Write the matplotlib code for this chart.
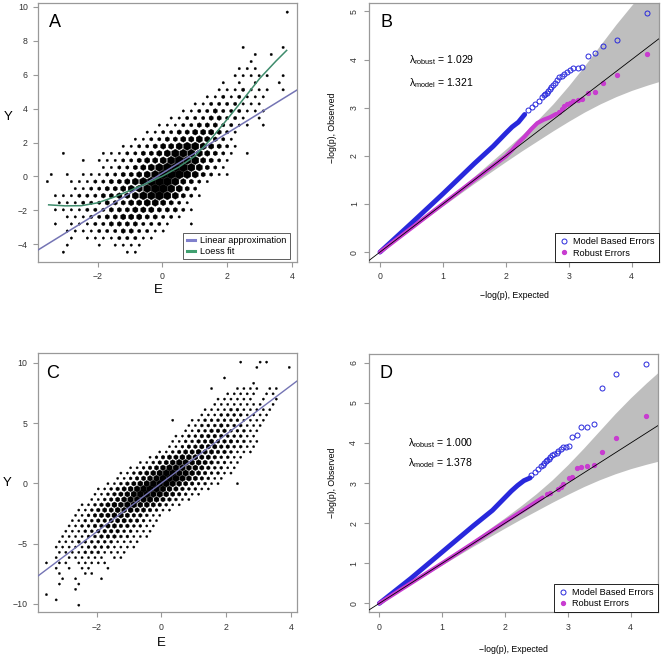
import matplotlib
matplotlib.use('Agg')
import matplotlib.pyplot as plt
from matplotlib.lines import Line2D

plt.rcParams['font.family'] = ['Liberation Sans', 'DejaVu Sans']
plt.rcParams['mathtext.fontset'] = 'custom'
plt.rcParams['mathtext.rm'] = 'Liberation Sans'

# hexbin cells, one string per hex row (bottom row first)
# digit = dot size class 1 (few points) .. 7 (many points), blank = empty cell
hex_a_rows = [
    "  1       11",
    "  1   1 1111",
    "   1 111122211",
    "  1111222332211",
    " 1 1112233332221  1",
    "  111223344433221",
    " 111122233344433321",
    " 11122233344554321",
    " 1112223344566765321",
    "   1122334556776532",
    "1  111223345677764321",
    "1 1 1112233456777653211",
    "       1122345677765321",
    "    1 11122344567664321",
    "  1    11122334566654321 1",
    "         112234456654321",
    "           1122334454321",
    "            112233444321",
    "              111223332211 1",
    "               1122233221 1",
    "                 11223222111",
    "                  112222111",
    "                    11212111",
    "                     1112111 1",
    "                      1 1 1  1",
    "                       11111 1",
    "                        111",
    "                         1",
    "                          1 1",
    "                        1    1",
    "",
    "",
    "",
    "",
    "                              1",
]

hex_c_rows = [
    "     1",
    " 1",
    "1",
    "    1",
    "  1  1",
    "  1 1   1",
    "  1   11",
    " 1 1 11  1",
    "1 11 11111",
    " 1 111111 11",
    "  11112221111",
    " 1111122221111",
    "  1112222221111",
    "  11112233322111",
    " " * 3 + "11122333322111",
    " " * 3 + "11223344332211",
    " " * 4 + "11223344433211",
    " " * 4 + "11234455433211",
    " " * 5 + "112344555443211",
    " " * 5 + "1123455665543211",
    " " * 7 + "1123456666543211",
    " " * 7 + "11234567766543211",
    " " * 8 + "112345677765432211",
    " " * 9 + "112345677765432211  1",
    " " * 11 + "11234567776543211",
    " " * 11 + "112345677665432211",
    " " * 13 + "11234566655432211",
    " " * 14 + "1123456655432211",
    " " * 16 + "123445554432211",
    " " * 17 + "112344544332111",
    " " * 19 + "11233444332211",
    " " * 19 + "11223343332211",
    " " * 20 + "1122333322211",
    " " * 21 + "112233322211",
    " " * 22 + "112223222111",
    " " * 19 + "1  112222221111",
    " " * 24 + "11122221111",
    " " * 24 + "11112211111",
    " " * 26 + "11111111 1",
    " " * 26 + "111111 1 1",
    " " * 28 + "11111 11",
    " " * 25 + "1   1111 11",
    " " * 32 + "1",
    " " * 27 + "1",
    "",
    " " * 32 + "1    1",
    " " * 30 + "1  11",
]

# fitted curves in panels A and C
a_lin_intercept, a_lin_slope = 0.2, 1.18
a_loess_x = [-3.51, -3.0, -2.5, -2.0, -1.5, -1.0, -0.5, 0.0, 0.5, 1.0, 1.5, 2.0, 2.5, 3.0, 3.5, 3.83]
a_loess_y = [-1.67, -1.73, -1.72, -1.55, -1.22, -0.82, -0.42, 0.02, 0.55, 1.2, 2.22, 3.38, 4.57, 5.78, 6.8, 7.43]
c_lin_intercept, c_lin_slope = 0.02, 2.02

# QQ plot B: dense part of each series and the separate upper tail points
b_model_x = [0, 0.5, 1.0, 1.5, 1.8, 2.0, 2.1, 2.2, 2.3]
b_model_y = [0, 0.6, 1.21, 1.84, 2.2, 2.47, 2.6, 2.7, 2.86]
b_model_tail_x = [2.35, 2.41, 2.47, 2.52, 2.57, 2.60, 2.62, 2.65, 2.67, 2.70, 2.72, 2.75, 2.78,
                  2.82, 2.85, 2.89, 2.93, 2.97, 3.02, 3.07, 3.14, 3.21, 3.30, 3.41, 3.55, 3.77, 4.25]
b_model_tail_y = [2.95, 3.02, 3.08, 3.15, 3.22, 3.26, 3.28, 3.31, 3.35, 3.38, 3.43, 3.47, 3.52,
                  3.57, 3.63, 3.66, 3.71, 3.74, 3.78, 3.82, 3.83, 3.84, 4.07, 4.13, 4.29, 4.40, 4.97]
b_robust_x = [0, 0.5, 1.0, 1.5, 2.0, 2.1, 2.2, 2.3, 2.4, 2.5, 2.6, 2.7, 2.8]
b_robust_y = [0, 0.5, 1.0, 1.5, 1.99, 2.12, 2.27, 2.4, 2.55, 2.68, 2.75, 2.8, 2.87]
b_robust_tail_x = [2.85, 2.89, 2.93, 2.97, 3.02, 3.07, 3.14, 3.21, 3.30, 3.41, 3.55, 3.77, 4.25]
b_robust_tail_y = [2.92, 2.98, 3.03, 3.07, 3.1, 3.15, 3.17, 3.18, 3.31, 3.33, 3.52, 3.67, 4.12]

# QQ plot D
d_model_x = [0, 0.5, 1.0, 1.5, 1.8, 2.0, 2.1, 2.2, 2.3, 2.4]
d_model_y = [0, 0.62, 1.28, 1.94, 2.32, 2.64, 2.8, 2.94, 3.06, 3.13]
d_model_tail_x = [2.41, 2.47, 2.52, 2.57, 2.60, 2.62, 2.65, 2.67, 2.70, 2.72, 2.75, 2.78, 2.82,
                  2.85, 2.89, 2.93, 2.97, 3.02, 3.07, 3.14, 3.21, 3.30, 3.41, 3.55, 3.77, 4.25]
d_model_tail_y = [3.2, 3.27, 3.36, 3.42, 3.46, 3.5, 3.54, 3.57, 3.6, 3.64, 3.69, 3.73, 3.76,
                  3.80, 3.86, 3.89, 3.91, 3.93, 4.16, 4.19, 4.39, 4.41, 4.48, 5.36, 5.73, 5.98]
d_robust_x = [0, 0.5, 1.0, 1.5, 2.0, 2.3, 2.6]
d_robust_y = [0, 0.5, 1.0, 1.51, 2.03, 2.33, 2.64]
d_robust_tail_x = [2.67, 2.72, 2.85, 2.89, 2.93, 3.02, 3.07, 3.14, 3.21, 3.30, 3.41, 3.55, 3.77, 4.25]
d_robust_tail_y = [2.72, 2.74, 2.86, 2.9, 2.97, 3.12, 3.15, 3.38, 3.41, 3.42, 3.44, 3.77, 4.12, 4.67]

# 95% band around the diagonal
band_x = [0, 0.5, 1, 1.5, 2, 2.25, 2.5, 2.75, 3, 3.25, 3.5, 3.75, 4, 4.25, 4.45]
band_lo = [0, 0.48, 0.96, 1.43, 1.88, 2.1, 2.31, 2.52, 2.72, 2.91, 3.08, 3.23, 3.36, 3.47, 3.55]
band_hi = [0, 0.52, 1.04, 1.58, 2.14, 2.43, 2.74, 3.08, 3.46, 3.87, 4.3, 4.73, 5.13, 5.5, 5.78]

lambda_b = ['1.029', '1.321']
lambda_d = ['1.000', '1.378']

LIN_COL = '#7474b4'
LOESS_COL = '#3e8c6c'
BLUE = '#2828dc'
MAGENTA = '#c83cd0'
FRAME = '#999999'


def draw_hex(ax, rows, y0, dy, x0_even, x0_odd, dx, widths_px):
    xs, ys, ss = [], [], []
    for k, row in enumerate(rows):
        x0 = x0_even if k % 2 == 0 else x0_odd
        for j, ch in enumerate(row):
            if ch == ' ':
                continue
            xs.append(x0 + j * dx)
            ys.append(y0 + k * dy)
            ms = widths_px[int(ch) - 1] / 0.866 * 0.72
            ss.append(ms ** 2)
    ax.scatter(xs, ys, s=ss, marker='h', c='black', edgecolors='black',
               linewidths=0.25, zorder=2)


def style_axes(ax):
    for sp in ax.spines.values():
        sp.set_color(FRAME)
        sp.set_linewidth(0.9)
    ax.tick_params(direction='out', length=3.5, width=0.8, color=FRAME,
                   labelsize=6.3, labelcolor='#333333', pad=4)


def qq_panel(ax, mx, my, mtx, mty, rx, ry, rtx, rty, lams, ylim, yticks):
    ax.fill_between(band_x, band_lo, band_hi, color='#bebebe', lw=0, zorder=1)
    ax.plot(mx, my, color=BLUE, lw=3.5, solid_capstyle='round', zorder=2)
    ax.plot(mtx, mty, ls='none', marker='o', mfc='none', mec=BLUE, ms=3.6, mew=0.7, zorder=2)
    ax.plot(rx, ry, color=MAGENTA, lw=3.0, solid_capstyle='round', zorder=3)
    ax.plot(rtx, rty, ls='none', marker='o', mfc=MAGENTA, mec=MAGENTA, ms=2.8, zorder=3)
    ax.axline((0, 0), slope=1, color='black', lw=0.6, zorder=4)
    ax.set_xlim(-0.17, 4.43)
    ax.set_ylim(*ylim)
    ax.set_xticks([0, 1, 2, 3, 4])
    ax.set_yticks(yticks)
    style_axes(ax)
    for lab in ax.get_yticklabels():
        lab.set_rotation(90)
        lab.set_va('center')
    ax.set_xlabel('\u2212log(p), Expected', fontsize=6.3)
    ax.set_ylabel('\u2212log(p), Observed', fontsize=6.3)
    handles = [Line2D([], [], ls='none', marker='o', mfc='none', mec=BLUE, ms=3.6, mew=0.7),
               Line2D([], [], ls='none', marker='o', mfc=MAGENTA, mec=MAGENTA, ms=2.8)]
    leg = ax.legend(handles, ['Model Based Errors', 'Robust Errors'], loc='lower right',
                    bbox_to_anchor=(1, 0), borderaxespad=0, fontsize=6.6, fancybox=False,
                    edgecolor='black', framealpha=1, handlelength=1.0, handletextpad=0.5,
                    labelspacing=0.25, borderpad=0.45)
    leg.get_frame().set_linewidth(0.6)
    ax.text(0.46, 3.98 if ylim[1] < 6 else 4.0, '\u03bb$_\\mathrm{robust}$ = ' + lams[0],
            fontsize=7.5, va='center', ha='left')
    ax.text(0.46, 3.51 if ylim[1] < 6 else 3.49, '\u03bb$_\\mathrm{model}$ = ' + lams[1],
            fontsize=7.5, va='center', ha='left')


fig = plt.figure(figsize=(6.62, 6.56), dpi=100)
W, H = 662.0, 656.0
ax_a = fig.add_axes([38.3 / W, 1 - 261.7 / H, (296.7 - 38.3) / W, (261.7 - 2.7) / H])
ax_b = fig.add_axes([369.3 / W, 1 - 261.7 / H, (658.7 - 369.3) / W, (261.7 - 3.3) / H])
ax_c = fig.add_axes([37.7 / W, 1 - 612.3 / H, (296.7 - 37.7) / W, (612.3 - 353.3) / H])
ax_d = fig.add_axes([368.7 / W, 1 - 612.3 / H, (657.7 - 368.7) / W, (612.3 - 354.0) / H])

# panel A
draw_hex(ax_a, hex_a_rows, -4.46, 0.416, -3.55, -3.43, 0.2466,
         [2.3, 3.2, 4.2, 5.2, 6.2, 7.2, 8.0])
ax_a.axline((0, a_lin_intercept), slope=a_lin_slope, color=LIN_COL, lw=1.1, zorder=3)
ax_a.plot(a_loess_x, a_loess_y, color=LOESS_COL, lw=1.1, zorder=3)
ax_a.set_xlim(-3.83, 4.14)
ax_a.set_ylim(-5.02, 10.24)
ax_a.set_xticks([-2, 0, 2, 4])
ax_a.set_yticks([-4, -2, 0, 2, 4, 6, 8, 10])
style_axes(ax_a)
ax_a.set_xlabel('E', fontsize=9.5)
ax_a.set_ylabel('Y', fontsize=9.5, rotation=0, ha='right', va='center')
ax_a.xaxis.set_label_coords(0.463, -0.086)
ax_a.yaxis.set_label_coords(-0.1, 0.559)
lh = [Line2D([], [], color='#8080cc', lw=2.2), Line2D([], [], color='#40a070', lw=2.2)]
leg = ax_a.legend(lh, ['Linear approximation', 'Loess fit'], loc='lower right',
                  bbox_to_anchor=(0.974, 0.0104), borderaxespad=0, fontsize=6.6,
                  fancybox=False, edgecolor='#444444', framealpha=1, handlelength=0.9,
                  handletextpad=0.6, labelspacing=0.15, borderpad=0.35)
leg.get_frame().set_linewidth(0.6)
ax_a.text(0.065, 0.923, 'A', transform=ax_a.transAxes, fontsize=13, ha='center', va='center')

# panel C
draw_hex(ax_c, hex_c_rows, -10.1, 0.438, -3.55, -3.45, 0.2,
         [2.1, 2.8, 3.5, 4.2, 4.9, 5.6, 6.2])
ax_c.axline((0, c_lin_intercept), slope=c_lin_slope, color=LIN_COL, lw=1.0, zorder=3)
ax_c.set_xlim(-3.82, 4.18)
ax_c.set_ylim(-10.69, 10.78)
ax_c.set_xticks([-2, 0, 2, 4])
ax_c.set_yticks([-10, -5, 0, 5, 10])
style_axes(ax_c)
ax_c.set_xlabel('E', fontsize=9.5)
ax_c.set_ylabel('Y', fontsize=9.5, rotation=0, ha='right', va='center')
ax_c.xaxis.set_label_coords(0.479, -0.097)
ax_c.yaxis.set_label_coords(-0.1, 0.5)
ax_c.text(0.056, 0.923, 'C', transform=ax_c.transAxes, fontsize=13, ha='center', va='center')

# panels B and D
qq_panel(ax_b, b_model_x, b_model_y, b_model_tail_x, b_model_tail_y,
         b_robust_x, b_robust_y, b_robust_tail_x, b_robust_tail_y,
         lambda_b, (-0.2, 5.17), [0, 1, 2, 3, 4, 5])
ax_b.xaxis.set_label_coords(0.5, -0.113)
ax_b.yaxis.set_label_coords(-0.11, 0.52)
ax_b.text(0.058, 0.925, 'B', transform=ax_b.transAxes, fontsize=13, ha='center', va='center')

qq_panel(ax_d, d_model_x, d_model_y, d_model_tail_x, d_model_tail_y,
         d_robust_x, d_robust_y, d_robust_tail_x, d_robust_tail_y,
         lambda_d, (-0.224, 6.22), [0, 1, 2, 3, 4, 5, 6])
ax_d.xaxis.set_label_coords(0.5, -0.125)
ax_d.yaxis.set_label_coords(-0.11, 0.5)
ax_d.text(0.06, 0.925, 'D', transform=ax_d.transAxes, fontsize=13, ha='center', va='center')

fig.savefig('out.png', dpi=100)
